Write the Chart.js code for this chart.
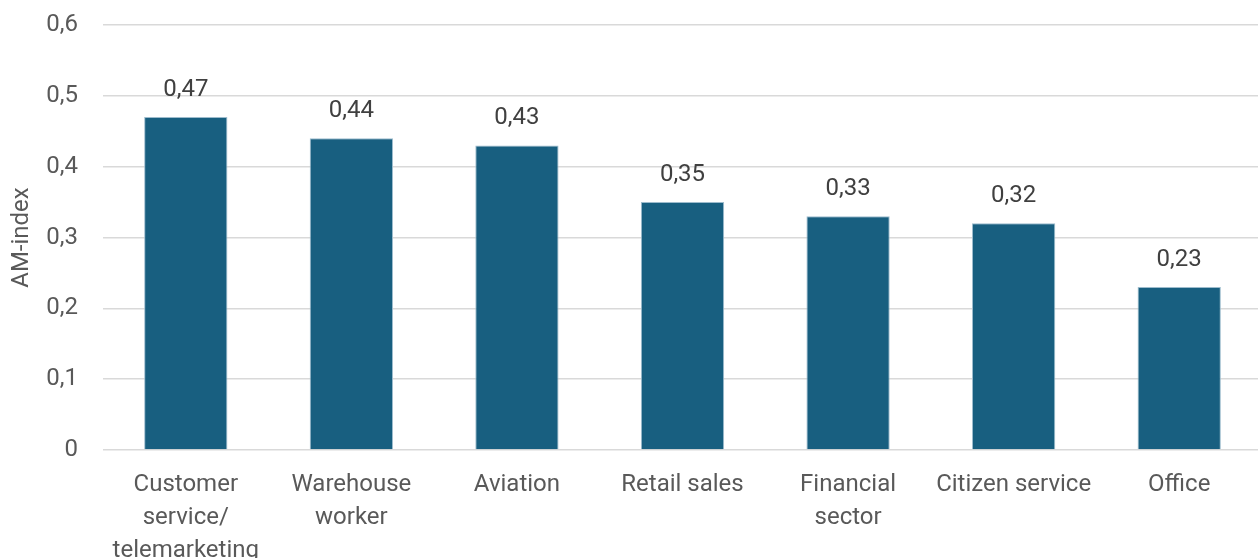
<!DOCTYPE html>
<html>
<head>
<meta charset="utf-8">
<script src="https://cdn.jsdelivr.net/npm/chart.js@4/dist/chart.umd.min.js"></script>
<style>
  html, body { margin: 0; padding: 0; background: #fff; overflow: hidden; }
  #wrap { width: 1262px; height: 558px; }
</style>
</head>
<body>
<div id="wrap"><canvas id="amChart"></canvas></div>
<script>
// occupations and their AM-index
var categories = [
    ['Customer', 'service/', 'telemarketing'],
    ['Warehouse', 'worker'],
    'Aviation',
    'Retail sales',
    ['Financial', 'sector'],
    'Citizen service',
    'Office'
];
var amIndex = [0.47, 0.44, 0.43, 0.35, 0.33, 0.32, 0.23];
var yTicks = [0, 0.1, 0.2, 0.3, 0.4, 0.5, 0.6];

function commaNum(v, digits) {
    return v.toFixed(digits).replace('.', ',');
}

// draws the value above each bar
var valueLabels = {
    id: 'valueLabels',
    afterDatasetsDraw: function(chart) {
        var ctx = chart.ctx;
        var meta = chart.getDatasetMeta(0);
        ctx.save();
        ctx.font = '24px Roboto';
        ctx.fillStyle = '#404040';
        ctx.textAlign = 'center';
        ctx.textBaseline = 'alphabetic';
        meta.data.forEach(function(bar, i) {
            ctx.fillText(commaNum(amIndex[i], 2), bar.x, bar.y - 21);
        });
        ctx.restore();
    }
};

const data = {
    labels: categories,
    datasets: [{
        label: 'AM-index',
        data: amIndex,
        backgroundColor: '#185f80',
        borderColor: '#9dbccd',
        borderWidth: 1,
        categoryPercentage: 1,
        barPercentage: 0.503
    }]
};

const config = {
    type: 'bar',
    data: data,
    options: {
        responsive: true,
        maintainAspectRatio: false,
        animation: false,
        layout: { padding: { top: 25, right: 0, left: 0, bottom: 0 } },
        plugins: {
            legend: { display: false },
            tooltip: { enabled: false }
        },
        scales: {
            x: {
                grid: { display: false, drawTicks: false },
                border: { display: false },
                ticks: {
                    color: '#595959',
                    font: { family: 'Roboto', size: 24, lineHeight: 1.375 },
                    padding: 18,
                    maxRotation: 0,
                    autoSkip: false
                },
                afterFit: function(scale) {
                    scale.height = 108;
                    scale.paddingLeft = 0;
                    scale.paddingRight = 0;
                }
            },
            y: {
                min: 0,
                max: 0.6,
                afterBuildTicks: function(scale) {
                    scale.ticks = yTicks.map(function(v) { return { value: v }; });
                },
                grid: { color: '#d9d9d9', lineWidth: 1.5, drawTicks: false },
                border: { display: false },
                ticks: {
                    color: '#595959',
                    font: { family: 'Roboto', size: 24 },
                    padding: 25,
                    callback: function(v) { return v === 0 ? '0' : commaNum(v, 1); }
                },
                title: {
                    display: true,
                    text: 'AM-index',
                    color: '#595959',
                    font: { family: 'Roboto', size: 24 },
                    padding: { top: 8, bottom: 0 }
                },
                afterFit: function(scale) {
                    scale.width = 103;
                    scale.paddingTop = 0;
                    scale.paddingBottom = 0;
                }
            }
        }
    },
    plugins: [valueLabels]
};

var amChart = new Chart(document.getElementById('amChart'), config);
</script>
</body>
</html>
